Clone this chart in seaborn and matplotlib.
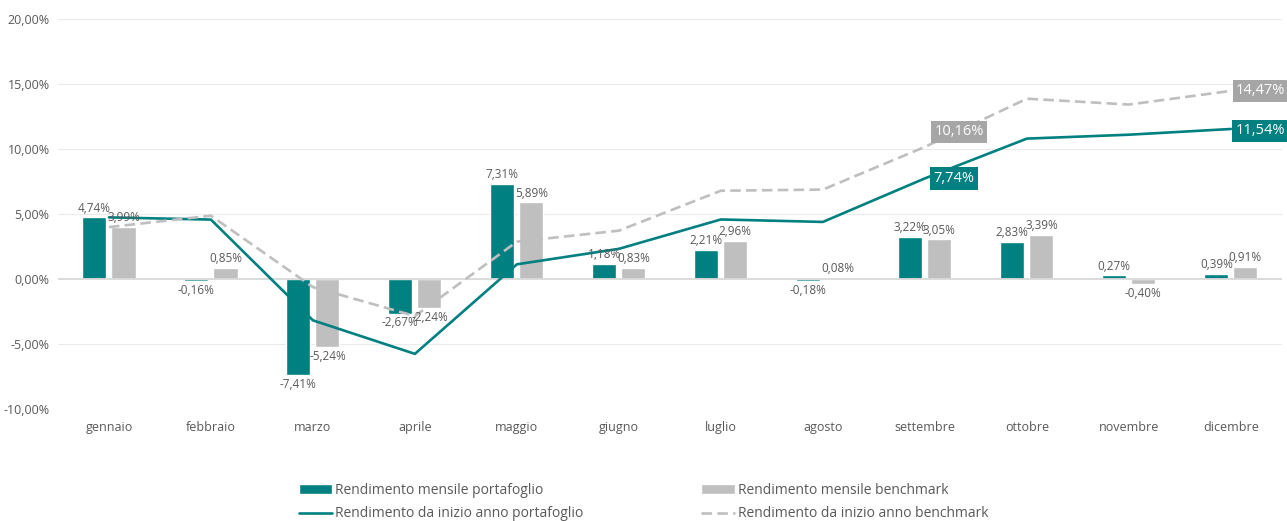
import numpy as np
import pandas as pd
import seaborn as sns
import matplotlib.pyplot as plt
from matplotlib.ticker import FuncFormatter

# dati mensili (in %)
mesi = ['gennaio', 'febbraio', 'marzo', 'aprile', 'maggio', 'giugno',
        'luglio', 'agosto', 'settembre', 'ottobre', 'novembre', 'dicembre']
mensile_port = [4.74, -0.16, -7.41, -2.67, 7.31, 1.18, 2.21, -0.18, 3.22, 2.83, 0.27, 0.39]
mensile_bench = [3.99, 0.85, -5.24, -2.24, 5.89, 0.83, 2.96, 0.08, 3.05, 3.39, -0.40, 0.91]
ytd_port = [4.74, 4.57, -3.18, -5.76, 1.13, 2.32, 4.58, 4.39, 7.74, 10.80, 11.10, 11.54]
ytd_bench = [3.99, 4.87, -0.62, -2.85, 2.87, 3.72, 6.79, 6.88, 10.16, 13.87, 13.42, 14.47]

serie_bar = ['Rendimento mensile portafoglio', 'Rendimento mensile benchmark']
serie_line = ['Rendimento da inizio anno portafoglio', 'Rendimento da inizio anno benchmark']

TEAL = '#008080'
GRIGIO = '#BFBFBF'
TESTO = '#595959'


def it_pct(v):
    return f'{v:.2f}%'.replace('.', ',')


def grafico():
    sns.set_theme(style='white')
    plt.rcParams['font.family'] = ['Open Sans', 'DejaVu Sans']

    df = pd.DataFrame({
        'mese': mesi * 2,
        'serie': [serie_bar[0]] * 12 + [serie_bar[1]] * 12,
        'valore': mensile_port + mensile_bench,
    })

    fig = plt.figure(figsize=(12.87, 5.21), dpi=100)
    ax = fig.add_axes([0.045, 0.215, 0.951, 0.7485])

    sns.barplot(data=df, x='mese', y='valore', hue='serie', order=mesi,
                hue_order=serie_bar, palette=[TEAL, GRIGIO], width=0.57,
                gap=0.17, saturation=1, ax=ax, errorbar=None)

    pos = np.arange(len(mesi))
    sns.lineplot(x=pos, y=ytd_port, color=TEAL, linewidth=1.9,
                 label=serie_line[0], ax=ax)
    sns.lineplot(x=pos, y=ytd_bench, color=GRIGIO, linewidth=1.9,
                 linestyle=(0, (4, 2)), label=serie_line[1], ax=ax)

    # etichette barre
    for c in ax.containers:
        ax.bar_label(c, fmt=it_pct, padding=2, fontsize=8.5, color=TESTO)

    # etichette linee (solo settembre e dicembre)
    box = dict(boxstyle='square,pad=0.25', ec='none')
    for i, dx, dy in [(8, 34, 15), (11, 30, 0)]:
        ax.annotate(it_pct(ytd_bench[i]), (pos[i], ytd_bench[i]),
                    xytext=(dx, dy), textcoords='offset pixels',
                    ha='center', va='center', color='white', fontsize=10.5,
                    bbox={**box, 'fc': '#A6A6A6'})
    for i, dx, dy in [(8, 29, 0), (11, 30, -2)]:
        ax.annotate(it_pct(ytd_port[i]), (pos[i], ytd_port[i]),
                    xytext=(dx, dy), textcoords='offset pixels',
                    ha='center', va='center', color='white', fontsize=10.5,
                    bbox={**box, 'fc': TEAL})

    ax.set_ylim(-10, 20)
    ax.set_xlim(-0.5, 11.5)
    ax.set_yticks([-10, -5, 0, 5, 10, 15, 20])
    ax.yaxis.set_major_formatter(FuncFormatter(lambda v, p: it_pct(v)))
    ax.grid(axis='y', color='#EBEBEB', linewidth=0.8)
    ax.axhline(0, color='#D9D9D9', linewidth=1.3, zorder=1.5)
    ax.set_axisbelow(True)
    sns.despine(ax=ax, left=True, bottom=True)
    ax.tick_params(axis='both', length=0, colors=TESTO, labelsize=9)
    ax.tick_params(axis='x', pad=9)
    ax.tick_params(axis='y', pad=6)
    ax.set_xlabel('')
    ax.set_ylabel('')

    h, l = ax.get_legend_handles_labels()
    ax.legend_.remove()
    d = dict(zip(l, h))
    ordine = [serie_bar[0], serie_line[0], serie_bar[1], serie_line[1]]
    fig.legend([d[k] for k in ordine], ordine, loc='center',
               bbox_to_anchor=(0.5, 0.036), ncol=2, frameon=False,
               fontsize=10, labelcolor=TESTO, handlelength=2.4,
               handletextpad=0.2, columnspacing=8.5, labelspacing=0.6)

    fig.savefig('out.png', dpi=100)


if __name__ == '__main__':
    grafico()
